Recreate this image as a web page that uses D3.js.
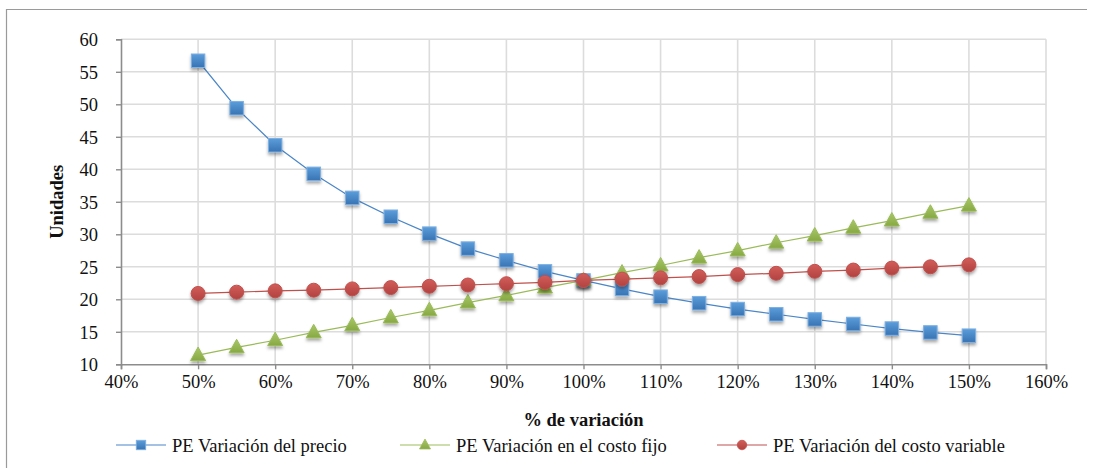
<!DOCTYPE html>
<html>
<head>
<meta charset="utf-8">
<script src="https://cdn.jsdelivr.net/npm/d3@7/dist/d3.min.js"></script>
</head>
<body style="margin:0">
<script>
// data
var pct = [50, 55, 60, 65, 70, 75, 80, 85, 90, 95, 100, 105, 110, 115, 120, 125, 130, 135, 140, 145, 150];
var precio = [56.7, 49.4, 43.7, 39.3, 35.6, 32.7, 30.1, 27.8, 26.0, 24.3, 22.9, 21.6, 20.4, 19.4, 18.5, 17.7, 16.9, 16.2, 15.5, 14.9, 14.4];
var costoFijo = [11.4, 12.6, 13.7, 14.9, 16.0, 17.2, 18.3, 19.5, 20.6, 21.8, 22.9, 24.1, 25.2, 26.4, 27.5, 28.7, 29.8, 31.0, 32.1, 33.3, 34.4];
var costoVariable = [20.9, 21.1, 21.3, 21.4, 21.6, 21.8, 22.0, 22.2, 22.4, 22.6, 22.9, 23.1, 23.3, 23.5, 23.8, 24.0, 24.3, 24.5, 24.8, 25.0, 25.3];
var xTicks = [40, 50, 60, 70, 80, 90, 100, 110, 120, 130, 140, 150, 160];
var yTicks = [10, 15, 20, 25, 30, 35, 40, 45, 50, 55, 60];
var seriesNames = ["PE Variación del precio", "PE Variación en el costo fijo", "PE Variación del costo variable"];

var FONT = "Liberation Serif";
var W = 1096, H = 468;
var margin = { top: 39.3, right: 50, bottom: 103.7, left: 121 };

var svg = d3.select("body").append("svg")
    .attr("width", W)
    .attr("height", H);

// outer chart frame (top + left edges visible)
svg.append("path")
    .attr("d", "M6.5,470 L6.5,9.5 L1087,9.5")
    .attr("fill", "none")
    .attr("stroke", "#9a9a9a")
    .attr("stroke-width", 1.2);

var defs = svg.append("defs");
var shadow = defs.append("filter").attr("id", "shadow")
    .attr("x", "-50%").attr("y", "-50%").attr("width", "200%").attr("height", "220%");
shadow.append("feDropShadow")
    .attr("dx", 0).attr("dy", 2.5).attr("stdDeviation", 1.6)
    .attr("flood-color", "#000").attr("flood-opacity", 0.35);

function grad(id, c1, c2) {
    var g = defs.append("linearGradient").attr("id", id)
        .attr("x1", 0).attr("y1", 0).attr("x2", 0).attr("y2", 1);
    g.append("stop").attr("offset", "0%").attr("stop-color", c1);
    g.append("stop").attr("offset", "100%").attr("stop-color", c2);
}
grad("gBlue", "#5c9ddb", "#3873b4");
grad("gGreen", "#a9c868", "#86a843");
grad("gRed", "#d35d59", "#b1423f");

var x = d3.scaleLinear().domain([40, 160]).range([margin.left, W - margin.right]);
var y = d3.scaleLinear().domain([10, 60]).range([H - margin.bottom, margin.top]);

// gridlines
var grid = svg.append("g");
grid.selectAll(".hg").data(yTicks.slice(1)).enter().append("line")
    .attr("x1", x(40)).attr("x2", x(160))
    .attr("y1", function (d) { return y(d); })
    .attr("y2", function (d) { return y(d); })
    .attr("stroke", "#dcdcdc").attr("stroke-width", 1.6);
grid.selectAll(".vg").data(xTicks.slice(1)).enter().append("line")
    .attr("y1", y(10)).attr("y2", y(60))
    .attr("x1", function (d) { return x(d); })
    .attr("x2", function (d) { return x(d); })
    .attr("stroke", "#dcdcdc").attr("stroke-width", 1.6);

// axes
var xAxis = svg.append("g")
    .attr("transform", "translate(0," + y(10) + ")")
    .call(d3.axisBottom(x).tickValues(xTicks).tickSize(5).tickPadding(6)
        .tickFormat(function (d) { return d + "%"; }));
var yAxis = svg.append("g")
    .attr("transform", "translate(" + x(40) + ",0)")
    .call(d3.axisLeft(y).tickValues(yTicks).tickSize(5).tickPadding(18));

[xAxis, yAxis].forEach(function (a) {
    a.select(".domain").attr("stroke", "#8c8c8c").attr("stroke-width", 1.6);
    a.selectAll(".tick line").attr("stroke", "#8c8c8c").attr("stroke-width", 1.4);
    a.selectAll("text")
        .style("font-family", FONT)
        .style("font-size", "18.5px")
        .attr("fill", "#111");
});
yAxis.selectAll("text").attr("dy", "0.34em");

// axis titles
svg.append("text")
    .text("% de variación")
    .attr("x", (x(40) + x(160)) / 2)
    .attr("y", 426)
    .attr("text-anchor", "middle")
    .attr("fill", "#111")
    .style("font-family", FONT)
    .style("font-weight", "bold")
    .style("font-size", "18.5px");

svg.append("text")
    .text("Unidades")
    .attr("transform", "translate(63," + (y(10) + y(60)) / 2 + ") rotate(-90)")
    .attr("text-anchor", "middle")
    .attr("fill", "#111")
    .style("font-family", FONT)
    .style("font-weight", "bold")
    .style("font-size", "18.5px");

var series = [
    { name: seriesNames[0], values: precio, color: "#4a86c8", fill: "url(#gBlue)", stroke: "#7eb0e2", shape: "square" },
    { name: seriesNames[1], values: costoFijo, color: "#9bbb59", fill: "url(#gGreen)", stroke: "#9bbb59", shape: "triangle" },
    { name: seriesNames[2], values: costoVariable, color: "#c0504d", fill: "url(#gRed)", stroke: "#c0504d", shape: "circle" }
];

var line = d3.line()
    .x(function (d) { return x(d[0]); })
    .y(function (d) { return y(d[1]); });

function marker(g, shape, size) {
    if (shape === "square") {
        return g.append("rect").attr("x", -size / 2).attr("y", -size / 2)
            .attr("width", size).attr("height", size);
    }
    if (shape === "triangle") {
        var h = size * 0.9;
        return g.append("path")
            .attr("d", "M0," + (-h * 0.6) + " L" + (size / 2) + "," + (h * 0.4) + " L" + (-size / 2) + "," + (h * 0.4) + " Z");
    }
    return g.append("circle").attr("r", size / 2);
}

series.forEach(function (s) {
    var pts = pct.map(function (p, i) { return [p, s.values[i]]; });
    svg.append("path")
        .datum(pts)
        .attr("d", line)
        .attr("fill", "none")
        .attr("stroke", s.color)
        .attr("stroke-width", 1.2);
});

series.forEach(function (s) {
    var pts = pct.map(function (p, i) { return [p, s.values[i]]; });
    var mk = svg.append("g").attr("filter", "url(#shadow)");
    pts.forEach(function (d) {
        var g = mk.append("g").attr("transform", "translate(" + x(d[0]) + "," + y(d[1]) + ")");
        marker(g, s.shape, s.shape === "circle" ? 14 : (s.shape === "triangle" ? 15 : 13.5))
            .attr("fill", s.fill)
            .attr("stroke", s.stroke)
            .attr("stroke-width", 1);
    });
});

// legend
var legendX = [116, 400, 717];
var legend = svg.append("g");
series.forEach(function (s, i) {
    var g = legend.append("g").attr("transform", "translate(" + legendX[i] + ",445)");
    g.append("line").attr("x1", 0).attr("x2", 50).attr("y1", 0).attr("y2", 0)
        .attr("stroke", s.color).attr("stroke-width", 1.2);
    var m = g.append("g").attr("transform", "translate(25,0)");
    marker(m, s.shape, s.shape === "triangle" ? 11 : 9.5)
        .attr("fill", s.fill)
        .attr("stroke", s.stroke)
        .attr("stroke-width", 0.8);
    g.append("text").text(s.name)
        .attr("x", 56)
        .attr("y", 6.5)
        .attr("fill", "#111")
        .style("font-family", FONT)
        .style("font-size", "18.5px");
});
</script>
</body>
</html>
